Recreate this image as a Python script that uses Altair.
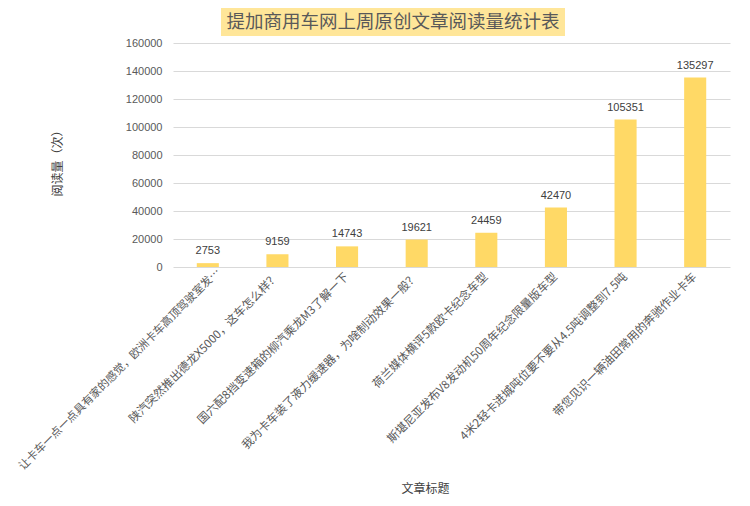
import altair as alt
import pandas as pd

TITLE = "提加商用车网上周原创文章阅读量统计表"
titles = [
    "让卡车一点一点具有家的感觉，欧洲卡车高顶驾驶室发…",
    "陕汽突然推出德龙X5000，这车怎么样？",
    "国六配8挡变速箱的柳汽乘龙M3了解一下",
    "我为卡车装了液力缓速器，为啥制动效果一般？",
    "荷兰媒体横评5款欧卡纪念车型",
    "斯堪尼亚发布V8发动机50周年纪念限量版车型",
    "4米2轻卡进城吨位要不要从4.5吨调整到7.5吨",
    "带您见识一辆油田常用的奔驰作业卡车",
]
reads = [2753, 9159, 14743, 19621, 24459, 42470, 105351, 135297]
y_ticks = [0, 20000, 40000, 60000, 80000, 100000, 120000, 140000, 160000]

df = pd.DataFrame({"title": titles, "reads": reads})

CJK = "Noto Sans CJK SC"
NUM = "Liberation Sans"

first_test = "datum.value == '" + titles[0] + "'"

x_enc = alt.X(
    "title:N",
    sort=None,
    scale=alt.Scale(paddingInner=0.683, paddingOuter=0.3415),
    axis=alt.Axis(
        title="文章标题",
        titleFont=CJK,
        titleFontSize=12,
        titleFontWeight="normal",
        titleColor="#404040",
        titleX=252,
        titleY=221,
        titleAlign="center",
        titleBaseline="middle",
        labelAngle=-45,
        labelFont=CJK,
        labelFontSize={"condition": {"test": first_test, "value": 11.2}, "value": 11.6},
        labelOffset={"condition": {"test": first_test, "value": 11}, "value": 0},
        labelPadding={"condition": {"test": first_test, "value": 3}, "value": 8},
        labelColor="#595959",
        labelLimit=0,
        labelAlign="right",
        labelBaseline="middle",
        labelOverlap=False,
        ticks=False,
        domain=False,
        grid=False,
    ),
)

y_enc = alt.Y(
    "reads:Q",
    scale=alt.Scale(domain=[0, 160000], nice=False),
    axis=alt.Axis(
        values=y_ticks,
        format="d",
        labelOverlap=False,
        title="阅读量（次）",
        titleFont=CJK,
        titleFontSize=12,
        titleFontWeight="normal",
        titleColor="#404040",
        titleX=-116,
        titleY=117,
        titleAlign="center",
        titleBaseline="middle",
        labelFont=NUM,
        labelFontSize=11,
        labelColor="#595959",
        labelPadding=11,
        ticks=False,
        domain=False,
        grid=True,
        gridColor="#D9D9D9",
        gridWidth=1,
    ),
)

base = alt.Chart(df)

bars = base.mark_bar(color="#FFD966").encode(x=x_enc, y=y_enc)

labels = base.mark_text(
    baseline="bottom", dy=-7, font=NUM, fontSize=11, color="#404040"
).encode(x=x_enc, y=y_enc, text="reads:Q")

tdf = pd.DataFrame({"t": [TITLE]})
title_box = alt.Chart(tdf).mark_rect(color="#FFE699").encode(
    x=alt.value(48), x2=alt.value(392), y=alt.value(-35), y2=alt.value(-7)
)
title_text = alt.Chart(tdf).mark_text(
    font=CJK, fontSize=18.5, color="#595959", align="center", baseline="middle"
).encode(text="t:N", x=alt.value(220), y=alt.value(-21))

chart = (
    alt.layer(bars, labels, title_box, title_text)
    .properties(
        width=557,
        height=224,
        autosize=alt.AutoSizeParams(type="none"),
        padding={"left": 165, "top": 35, "right": 12, "bottom": 231},
        background="white",
    )
    .configure_view(stroke=None)
    .configure_axis(labelOverlap=False)
)

chart.save("out.html", embed_options={"renderer": "svg", "actions": False})
